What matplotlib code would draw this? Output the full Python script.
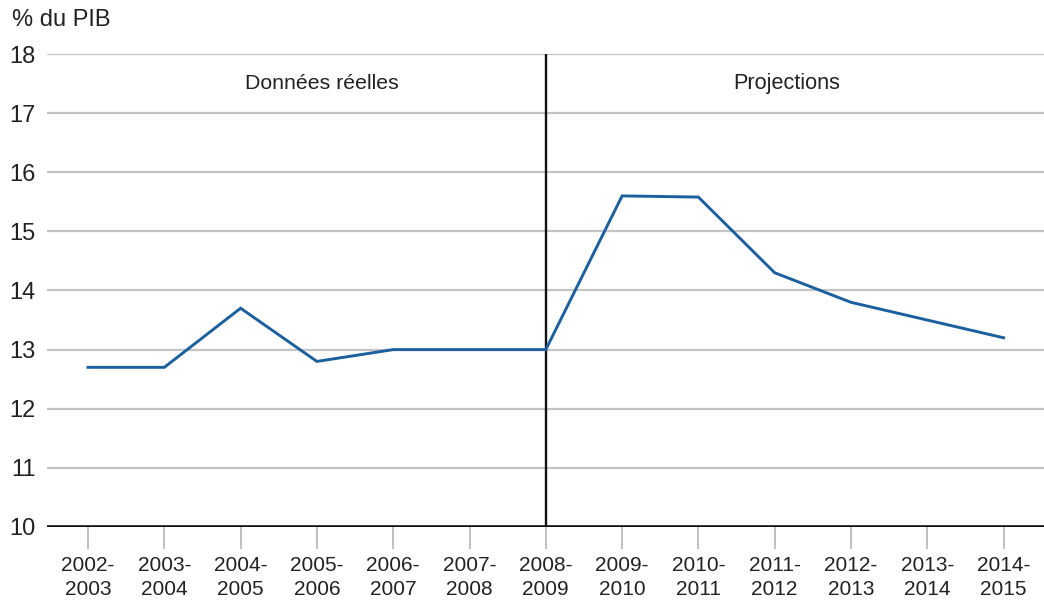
import matplotlib
matplotlib.use("Agg")
import matplotlib.pyplot as plt

categories = ["2002-\n2003", "2003-\n2004", "2004-\n2005", "2005-\n2006", "2006-\n2007",
              "2007-\n2008", "2008-\n2009", "2009-\n2010", "2010-\n2011", "2011-\n2012",
              "2012-\n2013", "2013-\n2014", "2014-\n2015"]
values = [12.7, 12.7, 13.7, 12.8, 13.0, 13.0, 13.0, 15.6, 15.58, 14.3, 13.8, 13.5, 13.2]
yticks = [10, 11, 12, 13, 14, 15, 16, 17, 18]
divider_index = 6
label_actual = "Données réelles"
label_proj = "Projections"
ylabel = "% du PIB"

plt.rcParams['font.family'] = ['Liberation Sans', 'DejaVu Sans']

fig = plt.figure(figsize=(10.44, 6.05), dpi=100)
ax = fig.add_axes([0.045, 0.129, 0.955, 0.7817])

x = list(range(len(categories)))
for yv in yticks[1:]:
    ax.axhline(yv, color="#c4c4c4", lw=1.6, zorder=1)
ax.axhline(10, color="#111111", lw=2.6, zorder=3)
ax.axvline(divider_index, color="#111111", lw=1.7, zorder=3)

ax.plot(x, values, color="#1c5f9e", lw=2.1, zorder=4, solid_joinstyle="miter")

ax.set_xlim(-0.538, 12.53)
ax.set_ylim(10, 18)
ax.set_yticks(yticks)
ax.set_yticklabels([str(v) for v in yticks], fontsize=17, color="#222222")
ax.set_xticks(x)
ax.set_xticklabels(categories, fontsize=15, color="#222222", linespacing=1.3)
ax.tick_params(axis="y", length=0, pad=8)
ax.tick_params(axis="x", length=16, width=1.3, color="#bbbbbb", pad=5)
for s in ax.spines.values():
    s.set_visible(False)

ax.text(3.06, 17.5, label_actual, ha="center", va="center", fontsize=15.3, color="#222222")
ax.text(9.16, 17.5, label_proj, ha="center", va="center", fontsize=15.6, color="#222222")
fig.text(12/1044, 1 - 20/605, ylabel, ha="left", va="center", fontsize=17, color="#222222")

fig.savefig("out.png", dpi=100)
